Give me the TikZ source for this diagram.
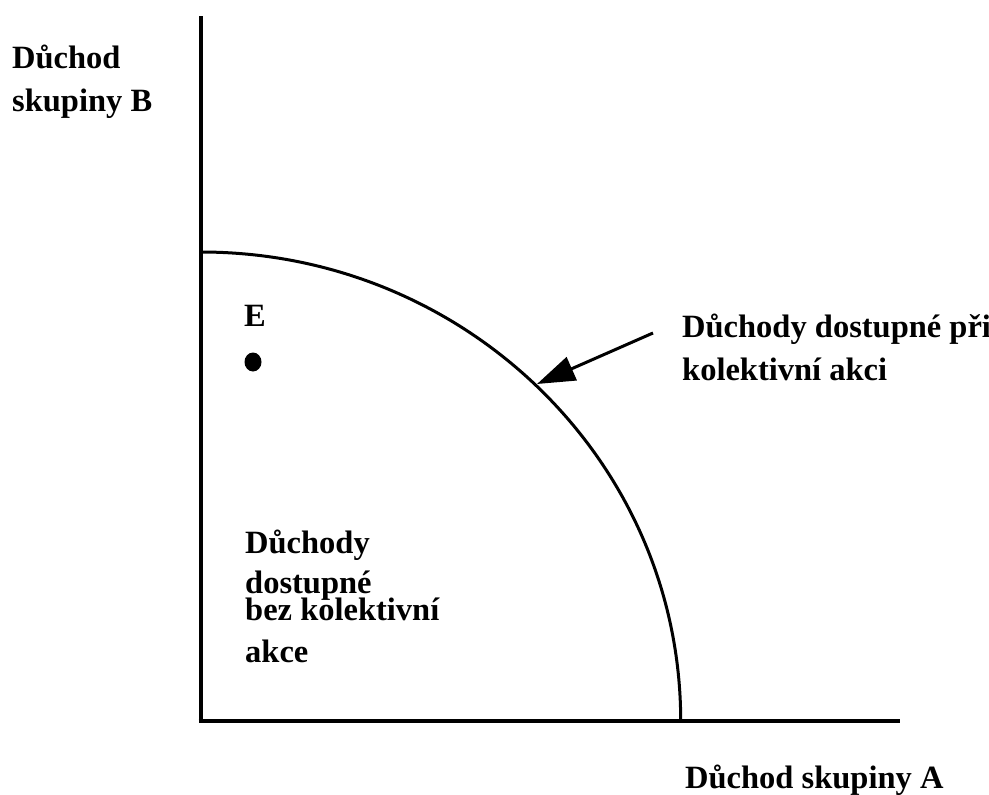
\documentclass[tikz,border=0pt]{standalone}
\usepackage{fontspec}
\setmainfont{Liberation Serif}[BoldFont={Liberation Serif Bold}]
\usetikzlibrary{arrows.meta,shapes.geometric}
\tikzset{
  lbl/.style={anchor=base west, inner sep=0pt, font=\fontsize{32.5}{43}\selectfont\bfseries},
  axisline/.style={line width=4pt},
  curveline/.style={line width=3pt},
  pointer/.style={line width=3pt, -{Triangle[length=38pt,width=25pt]}},
  dotstyle/.style={ellipse, fill=black, minimum width=17pt, minimum height=19pt, inner sep=0pt}
}
\begin{document}
\begin{tikzpicture}[x=1pt,y=-1pt]
\useasboundingbox (0,0) rectangle (989,795);
% axes
\coordinate (ytop) at (200.7,16);
\coordinate (origin) at (200.7,721);
\coordinate (xend) at (900,721);
\draw[axisline] (ytop) -- ([yshift=-2pt]origin);
\draw[axisline] ([xshift=-2pt]origin) -- (xend);
% frontier
\coordinate (ctop) at (200.7,252);
\draw[curveline] (ctop) arc[start angle=90, end angle=0, x radius=480pt, y radius=469pt];
% arrow
\coordinate (astart) at (653,333);
\coordinate (atip) at (537,384);
\draw[pointer] (astart) -- (atip);
% point E
\node[dotstyle] (dotE) at (253,362) {};
\node[lbl] (labE) at (244,326) {E};
% labels
\node[lbl] (yl1) at (12,68) {Důchod};
\node[lbl] (yl2) at (12,111) {skupiny B};
\node[lbl] (xl) at (685,788) {Důchod skupiny A};
\node[lbl] (cl1) at (682,337) {Důchody dostupné při};
\node[lbl] (cl2) at (682,380) {kolektivní akci};
\node[lbl] (bl1) at (245,553) {Důchody};
\node[lbl] (bl2) at (245,593) {dostupné};
\node[lbl] (bl3) at (245,620) {bez kolektivní};
\node[lbl] (bl4) at (245,662) {akce};
\end{tikzpicture}
\end{document}
